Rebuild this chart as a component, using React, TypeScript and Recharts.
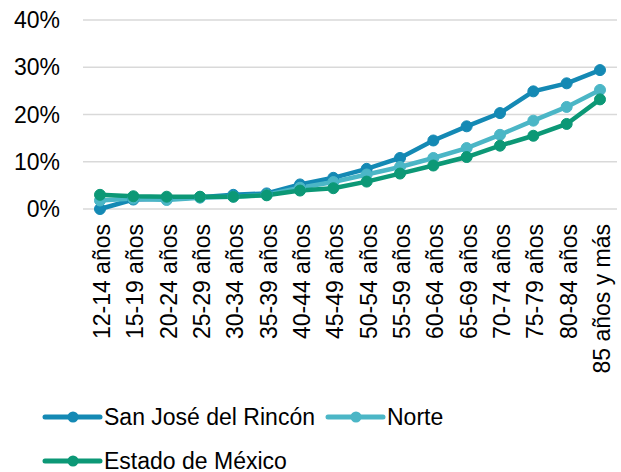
import React from 'react';
import { LineChart, Line, XAxis, YAxis, CartesianGrid, Legend } from 'recharts';

const categories = [
  '12-14 años', '15-19 años', '20-24 años', '25-29 años', '30-34 años', '35-39 años',
  '40-44 años', '45-49 años', '50-54 años', '55-59 años', '60-64 años', '65-69 años',
  '70-74 años', '75-79 años', '80-84 años', '85 años y más',
];
const sanJose = [0.0, 2.0, 2.1, 2.5, 3.0, 3.3, 5.2, 6.6, 8.5, 10.8, 14.5, 17.5, 20.3, 24.9, 26.6, 29.4];
const norte = [1.8, 2.2, 1.9, 2.4, 2.6, 3.0, 4.5, 5.7, 7.3, 8.9, 10.8, 12.9, 15.7, 18.7, 21.6, 25.2];
const estado = [3.0, 2.7, 2.6, 2.6, 2.6, 2.9, 3.9, 4.4, 5.8, 7.5, 9.2, 11.0, 13.4, 15.5, 18.0, 23.2];
const yTicks = [0, 10, 20, 30, 40];

const seriesNames = ['San José del Rincón', 'Norte', 'Estado de México'];
const colors = ['#1489B4', '#4BB6C6', '#0C9876'];

const data = categories.map((c, i) => ({
  name: c,
  sj: sanJose[i],
  norte: norte[i],
  estado: estado[i],
}));

const FONT = '"Liberation Sans", Arial, sans-serif';

const YTick = (props: any) => {
  const { y, payload } = props;
  return (
    <text x={60} y={y} dy="0.355em" textAnchor="end" fontSize={23} fontFamily={FONT} fill="#000">
      {payload.value}%
    </text>
  );
};

const XTick = (props: any) => {
  const { x, payload } = props;
  const ty = 224;
  return (
    <text
      x={x}
      y={ty}
      dy={10}
      textAnchor="end"
      transform={`rotate(-90, ${x}, ${ty})`}
      fontSize={23}
      fontFamily={FONT}
      fill="#000"
    >
      {payload.value}
    </text>
  );
};

const legendPos = [
  { x: 45, y: 22 },
  { x: 328, y: 22 },
  { x: 45, y: 66 },
];

const LegendContent = (props: any) => {
  const payload = props.payload || [];
  return (
    <svg width={621} height={77} style={{ display: 'block' }}>
      {payload.map((p: any, k: number) => {
        const i = Math.max(0, seriesNames.indexOf(p.value));
        const pos = legendPos[i];
        return (
          <g key={k}>
            <line x1={pos.x} x2={pos.x + 55} y1={pos.y} y2={pos.y} stroke={p.color} strokeWidth={5} strokeLinecap="round" />
            <circle cx={pos.x + 28} cy={pos.y} r={5.5} fill={p.color} />
            <text x={pos.x + 59} y={pos.y} dy="0.355em" fontSize={23} fontFamily={FONT} fill="#000">
              {p.value}
            </text>
          </g>
        );
      })}
    </svg>
  );
};

export default function App() {
  return (
    <div style={{ position: 'absolute', left: 0, top: 0, width: 621, height: 472, background: '#fff' }}>
      <LineChart width={621} height={472} data={data} margin={{ top: 20, right: 4, left: 0, bottom: 83 }}>
        <CartesianGrid horizontal vertical={false} stroke="#d9d9d9" strokeWidth={1.5} />
        <XAxis
          dataKey="name"
          height={180}
          interval={0}
          padding={{ left: 17, right: 17 }}
          tickLine={false}
          axisLine={false}
          tick={<XTick />}
        />
        <YAxis
          width={83}
          domain={[0, 40]}
          ticks={yTicks}
          tickLine={false}
          axisLine={false}
          tick={<YTick />}
        />
        <Legend
          layout="horizontal"
          verticalAlign="middle"
          align="center"
          wrapperStyle={{ position: 'absolute', left: 0, top: 395, width: 621, height: 77 }}
          content={<LegendContent />}
        />
        <Line
          name={seriesNames[0]}
          dataKey="sj"
          stroke={colors[0]}
          strokeWidth={4.5}
          dot={{ r: 5.5, fill: colors[0], stroke: colors[0], strokeWidth: 1 }}
          activeDot={false}
          isAnimationActive={false}
        />
        <Line
          name={seriesNames[1]}
          dataKey="norte"
          stroke={colors[1]}
          strokeWidth={4.5}
          dot={{ r: 5.5, fill: colors[1], stroke: colors[1], strokeWidth: 1 }}
          activeDot={false}
          isAnimationActive={false}
        />
        <Line
          name={seriesNames[2]}
          dataKey="estado"
          stroke={colors[2]}
          strokeWidth={4.5}
          dot={{ r: 5.5, fill: colors[2], stroke: colors[2], strokeWidth: 1 }}
          activeDot={false}
          isAnimationActive={false}
        />
      </LineChart>
    </div>
  );
}
